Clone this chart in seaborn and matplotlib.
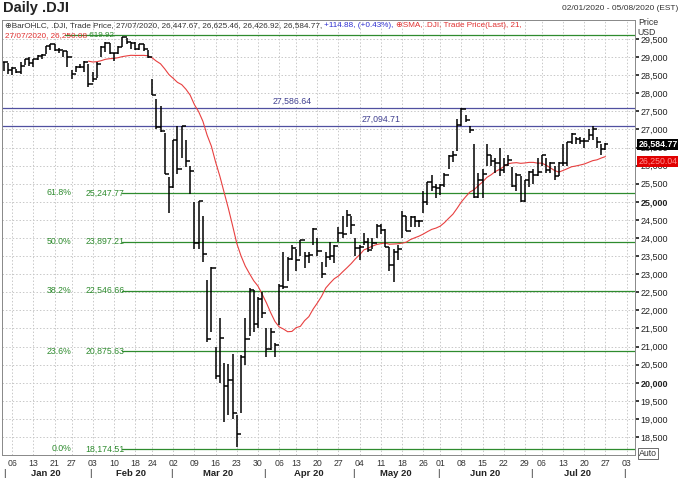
import numpy as np
import pandas as pd
import matplotlib
matplotlib.use("Agg")
import matplotlib.pyplot as plt
import seaborn as sns

sns.set_theme(style="white")
plt.rcParams['font.family'] = ['Liberation Sans', 'DejaVu Sans']

holidays = ["2020-01-20", "2020-02-17", "2020-04-10", "2020-05-25", "2020-07-03"]
closes = [28868,28634,28703,28583,28745,28957,28823,28940,29030,29048,29297,29348,29196,29186,29160,28989,28536,28723,28734,28859,28256,
          28399,28807,29290,29380,29103,29102,29276,29551,29423,29399,29232,29348,29219,28992,27961,27081,26957,25766,25409,
          26703,25917,27091,26121,25865,23851,25018,23553,21200,23185,20189,21237,19899,20087,19174,18592,20704,21200,22552,21637,22327,21917,
          20943,21413,21053,22680,22654,23434,23719,23390,23950,23505,23538,24242,23650,23019,23475,23516,23775,24134,24101,24634,24346,
          23724,23750,23883,23665,23876,24331,24222,23764,23248,23625,23685,24597,24207,24576,24474,24465,24995,25548,25401,25383,
          25475,25742,26270,26282,27111,27572,27272,26990,25128,25606,25763,26290,26120,26080,25871,26025,26156,25445,25745,25016,25596,25813,
          25735,25827,26287,25890,26067,25706,26075,26086,26643,26870,26735,26672,26681,26840,27005,26652,26470,26584.77]
highs = [28872,28844,28716,28665,28866,28958,29009,28958,29068,29090,29301,29374,29373,29260,29164,29178,28640,28750,28817,28883,28820,
         28592,28856,29306,29408,29380,29120,29292,29568,29525,29430,29408,29350,29350,29191,28402,27848,27660,26890,25681,
         26706,27084,27094,26700,25986,24993,25030,24611,22837,23190,21000,21797,20560,20530,20800,19122,20757,21800,22620,22550,22359,22500,
         21500,21500,21100,22732,23600,23484,23800,23700,23959,23600,23600,24265,24000,23350,23600,23900,23800,24300,24600,24764,24600,
         24000,23800,24150,24000,24000,24400,24400,24250,23750,23700,23800,24750,24600,24600,24600,24500,25300,25550,25750,25500,
         25500,25800,26300,26400,27300,27580,27400,27100,26600,25800,25900,26600,26300,26200,26500,26200,26300,25950,25800,25700,25600,25850,
         25900,26200,26300,26200,26100,26000,26100,26600,26650,26900,26800,26800,26750,27000,27100,26800,26600,26625.46]
lows = [28628,28543,28500,28559,28543,28791,28764,28725,28910,28944,29081,29185,29157,29103,28991,28732,28402,28578,28710,28591,28170,
        28319,28430,28988,29130,29080,28900,29093,29288,29355,29219,29200,29190,29156,28976,27950,27002,26939,25768,24681,
        25391,25778,26200,25976,25226,23707,23690,23328,21139,21400,20117,20000,18918,19110,19000,18213,19178,20500,21300,21400,21522,21800,
        20700,20900,20700,21600,22600,22820,23400,23100,23500,23170,23300,23800,23500,22900,23200,23400,23300,23900,24000,24300,24100,
        23500,23400,23800,23600,23700,24000,24100,23750,23100,22790,23400,24000,24200,24300,24300,24300,24700,24900,25300,25100,
        25200,25400,25900,26100,26400,27100,27200,26900,25100,25100,25100,26000,26000,25800,25700,25800,26000,25400,25300,25000,25000,25400,
        25500,25700,26000,25800,25800,25600,25700,26000,26000,26600,26600,26600,26500,26700,26700,26500,26300,26426.92]
fib_low, fib_high = 18174.51, 29619.92
fib_pcts = [0.0, 23.6, 38.2, 50.0, 61.8]
blue_levels = [27586.64, 27094.71]
week_labels = ["06","13","21","27","03","10","18","24","02","09","16","23","30","06","13","20","27",
               "04","11","18","26","01","08","15","22","29","06","13","20","27","03"]
months = ["Jan 20","Feb 20","Mar 20","Apr 20","May 20","Jun 20","Jul 20"]

dates = pd.bdate_range("2020-01-02", "2020-08-07", freq="C", holidays=holidays)
n = len(closes)
df = pd.DataFrame({"i": np.arange(n), "date": dates[:n], "open": [closes[0]] + closes[:-1],
                   "high": highs, "low": lows, "close": closes})
df["sma"] = df["close"].rolling(21).mean()

fig = plt.figure(figsize=(6.8, 4.78), dpi=100)
ax = fig.add_axes([0.003, 0.048, 0.931, 0.910])
ax.set_xlim(-0.4, 149)
ax.set_ylim(18003, 30022)

ax.set_yticks(np.arange(18500, 29501, 500))
alld = pd.Series(dates)
wk = alld.dt.to_period("W")
first = alld.groupby(wk).head(1).index.tolist()
week_idx = first[1:1 + len(week_labels)]
ax.set_xticks(week_idx)
ax.grid(True, color="#c8c8c8", linestyle=(0, (1.5, 2)), linewidth=0.7)
ax.set_xticklabels(week_labels, fontsize=6.3, color="#333")
ax.tick_params(axis="x", length=2, pad=0.5)
ax.yaxis.tick_right()
ax.tick_params(axis="y", length=3, pad=1, labelsize=6.5, colors="#222")
ax.set_yticklabels([f"{int(v):,}" for v in ax.get_yticks()])
for t, v in zip(ax.get_yticklabels(), ax.get_yticks()):
    if v in (20000, 25000):
        t.set_fontweight("bold")
for s in ax.spines.values():
    s.set_color("#888")
    s.set_linewidth(0.7)

# fib lines
rng = fib_high - fib_low
ax.axhline(fib_high, color="#2e8b2e", lw=0.9, xmin=0.1)
for p in fib_pcts:
    lv = fib_low + rng * p / 100
    ax.axhline(lv, color="#2e8b2e", lw=0.9, xmin=0.19)
    ax.text(16, lv, f"{p:.1f}%", color="#2e8b2e", fontsize=6.3, va="center", ha="right")
    ax.text(28.5, lv, f"{lv:,.2f}", color="#2e8b2e", fontsize=6.3, va="center", ha="right")
for lv, xp in zip(blue_levels, [68, 89]):
    ax.axhline(lv, color="#5050a0", lw=0.9)
    ax.text(xp, lv + 60, f"{lv:,.2f}", color="#404090", fontsize=6.3, va="bottom", ha="center",
            bbox=dict(facecolor="white", edgecolor="none", pad=0.5))

# SMA
sns.lineplot(data=df.dropna(), x="i", y="sma", ax=ax, color="#e84040", lw=0.8)
ax.set_xlabel(""); ax.set_ylabel("")

# OHLC bars
ax.vlines(df["i"], df["low"], df["high"], color="black", lw=1.1)
ax.hlines(df["open"], df["i"] - 0.5, df["i"], color="black", lw=1.1)
ax.hlines(df["close"], df["i"], df["i"] + 0.5, color="black", lw=1.1)

# last value boxes
ax.text(1.005, closes[-1], f"{closes[-1]:,.2f}", transform=ax.get_yaxis_transform(), fontsize=6.3,
        color="white", fontweight="bold", va="center", ha="left",
        bbox=dict(facecolor="black", edgecolor="none", pad=0.6))
sma_last = df["sma"].iloc[-1]
ax.text(1.005, sma_last - 130, f"{sma_last:,.2f}", transform=ax.get_yaxis_transform(), fontsize=6.3,
        color="#ff9090", va="center", ha="left",
        bbox=dict(facecolor="#e00000", edgecolor="none", pad=0.6))

# month labels
month_starts = [0] + [i for i in range(1, len(dates)) if dates[i].month != dates[i - 1].month]
xt = ax.get_xaxis_transform()
for k, m in enumerate(months):
    a = month_starts[k]
    b = month_starts[k + 1]
    ax.annotate(m, xy=((a + b) / 2 - 0.5, 0), xycoords=xt, xytext=(0, -13.3), textcoords="offset points",
                ha="center", va="center", fontsize=6.8, fontweight="bold", color="#222")
    ax.annotate("|", xy=(b - 0.5, 0), xycoords=xt, xytext=(0, -13.3), textcoords="offset points",
                ha="center", va="center", fontsize=7, color="#222")
ax.annotate("|", xy=(-0.4, 0), xycoords=xt, xytext=(1.5, -13.3), textcoords="offset points",
            ha="center", va="center", fontsize=7, color="#222")

# headers
fig.text(0.005, 0.997, "Daily .DJI", fontsize=10.5, fontweight="bold", va="top", color="#222")
fig.text(0.998, 0.99, "02/01/2020 - 05/08/2020 (EST)", fontsize=6, va="top", ha="right", color="#333")
fs = 5.9
t1 = ax.text(0.004, 0.995, "\u2295BarOHLC, .DJI, Trade Price, 27/07/2020, 26,447.67, 26,625.46, 26,426.92, 26,584.77, ",
             transform=ax.transAxes, fontsize=fs, va="top", color="#333")
t2 = ax.annotate("+114.88, (+0.43%), ", xy=(1, 0), xycoords=t1, va="bottom", fontsize=fs, color="#3030d0")
t3 = ax.annotate("\u2295SMA, .DJI, Trade Price(Last), 21,", xy=(1, 0), xycoords=t2, va="bottom", fontsize=fs, color="#e03030")
t4 = ax.text(0.004, 0.973, "27/07/2020, 26,250.08", transform=ax.transAxes, fontsize=fs, va="top", color="#e03030")
ax.annotate(" 619.92", xy=(1, 0), xycoords=t4, va="bottom", fontsize=fs, color="#2e8b2e")
fig.text(0.938, 0.962, "Price", fontsize=6.3, va="top", color="#333")
fig.text(0.938, 0.941, "USD", fontsize=6.3, va="top", color="#333")
fig.text(0.94, 0.052, "Auto", fontsize=6.3, va="center", color="#333",
         bbox=dict(facecolor="white", edgecolor="#555", pad=0.8, lw=0.6))

fig.savefig("out.png", dpi=100)
